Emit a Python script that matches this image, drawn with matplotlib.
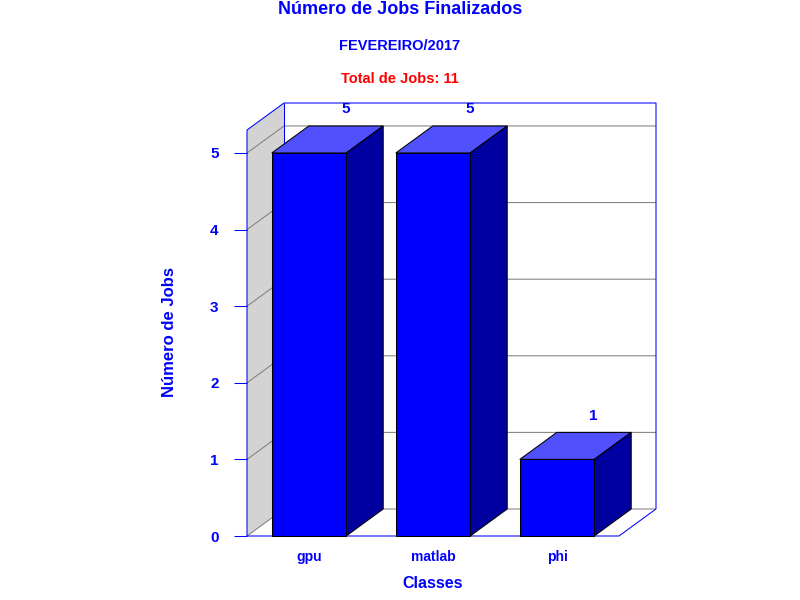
import numpy as np
import matplotlib
matplotlib.use("Agg")
import matplotlib.pyplot as plt

plt.rcParams["font.family"] = ["Liberation Sans", "DejaVu Sans"]
plt.rcParams["font.weight"] = "bold"

classes = ["gpu", "matlab", "phi"]
jobs = [5, 5, 1]
y_ticks = [0, 1, 2, 3, 4, 5]

title = "Número de Jobs Finalizados"
subtitle = "FEVEREIRO/2017"
total_text = "Total de Jobs: 11"

BLUE = "#0000ff"
TOP = "#5050ff"
SIDE = "#0000a0"
WALL = "#d3d3d3"
GRID = "#808080"

W, H = 800, 600
# front plane of the chart, in pixels
LEFT, RIGHT, BOTTOM, UPPER = 247, 619, 536, 130

BAR_W = 0.6
Y_MAX = 5.3
LW = 0.75
# 3d depth in data units
DX = 37 / 124
DY = 27 / 76.6

fig = plt.figure(figsize=(W / 100, H / 100), dpi=100, facecolor="white")
ax = fig.add_axes([LEFT / W, 1 - BOTTOM / H, (RIGHT - LEFT) / W, (BOTTOM - UPPER) / H])
ax.set_xlim(0, len(classes))
ax.set_ylim(0, Y_MAX)
for s in ax.spines.values():
    s.set_visible(False)


def line(xs, ys, color=BLUE, lw=LW, z=2):
    ax.plot(xs, ys, color=color, lw=lw, clip_on=False, zorder=z, solid_capstyle="butt")


n = len(classes)

# left wall
ax.fill([0, DX, DX, 0], [0, DY, Y_MAX + DY, Y_MAX], color=WALL, lw=0, clip_on=False, zorder=1)

# grid on both walls
for t in y_ticks[1:]:
    line([0, DX, n + DX], [t, t + DY, t + DY], GRID, LW, 1.5)
line([0, DX, n + DX], [0, DY, DY], GRID, LW, 1.5)

# box outline
line([0, 0, DX, n + DX, n + DX], [0, Y_MAX, Y_MAX + DY, Y_MAX + DY, DY])
line([DX, DX], [DY, Y_MAX + DY])
line([0, n, n + DX], [0, 0, DY])

# bars
for i, v in enumerate(jobs):
    x0 = i + 0.5 - BAR_W / 2
    x1 = i + 0.5 + BAR_W / 2
    ax.fill([x0, x1, x1, x0], [0, 0, v, v], fc=BLUE, ec="black", lw=LW, clip_on=False, zorder=5)
    ax.fill([x0, x1, x1 + DX, x0 + DX], [v, v, v + DY, v + DY], fc=TOP, ec="black", lw=LW, clip_on=False, zorder=4)
    ax.fill([x1, x1 + DX, x1 + DX, x1], [0, DY, v + DY, v], fc=SIDE, ec="black", lw=LW, clip_on=False, zorder=4)
    ax.annotate(str(v), (i + 0.5 + DX - 0.006, v + DY), xytext=(0, 12), textcoords="offset points",
                ha="center", va="center", color=BLUE, fontsize=11, annotation_clip=False, zorder=6)

ax.set_xticks(np.arange(n) + 0.5)
ax.set_xticklabels(classes)
ax.set_yticks(y_ticks)
ax.tick_params(axis="x", length=0, pad=10, labelsize=10, labelcolor=BLUE)
ax.tick_params(axis="y", length=9.4, width=LW, color=BLUE, pad=11, labelsize=11, labelcolor=BLUE)
ax.set_ylim(0, Y_MAX)

fig.text(400 / W, 1 - 10 / H, title, ha="center", va="center", color=BLUE, fontsize=13)
fig.text(400 / W, 1 - 46 / H, subtitle, ha="center", va="center", color=BLUE, fontsize=10.5)
fig.text(400 / W, 1 - 79 / H, total_text, ha="center", va="center", color="#ff0000", fontsize=10.5)
fig.text(433 / W, 1 - 583 / H, "Classes", ha="center", va="center", color=BLUE, fontsize=11.5)
fig.text(169 / W, 1 - 332 / H, "Número de Jobs", ha="center", va="center", rotation=90, color=BLUE, fontsize=12)

fig.savefig("out.png", dpi=100, facecolor="white")
